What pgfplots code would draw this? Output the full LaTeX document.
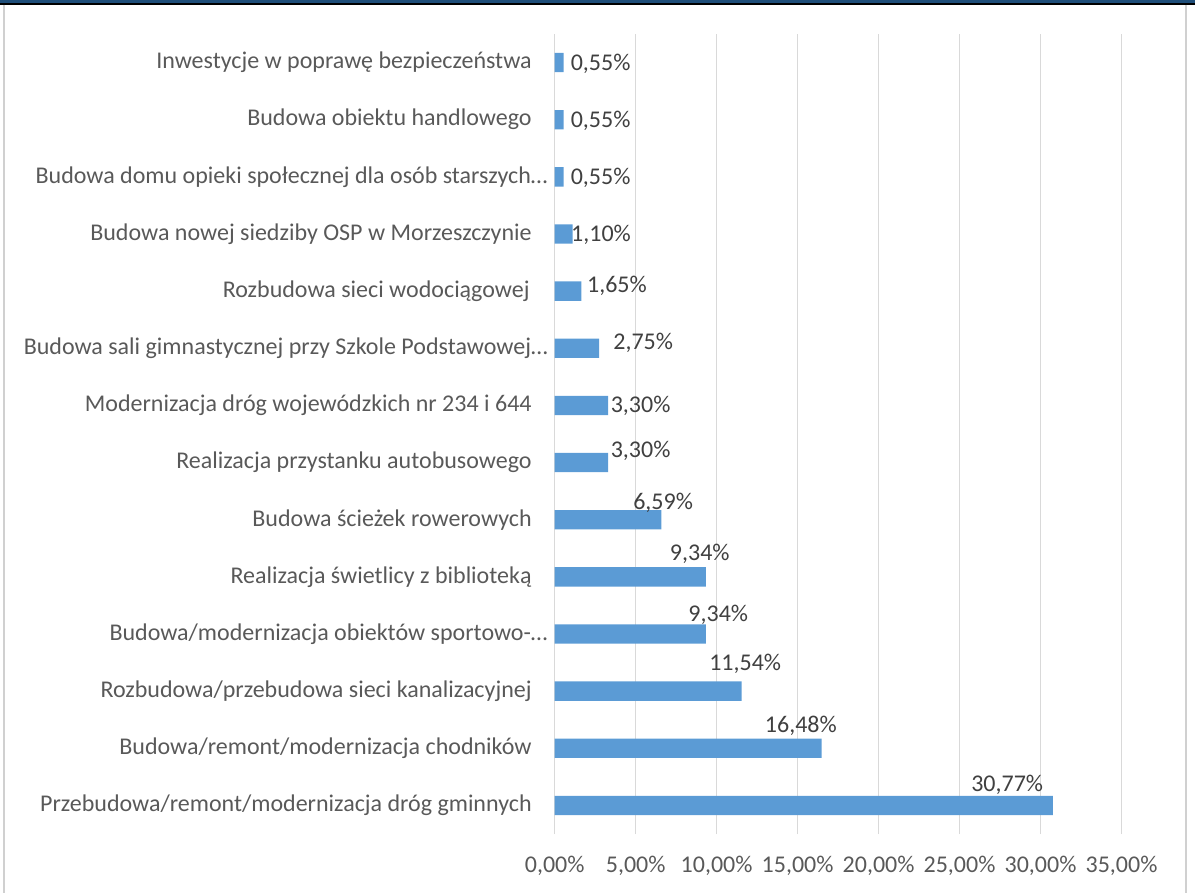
\documentclass[border=0pt]{standalone}
\usepackage{pgfplots}
\pgfplotsset{compat=1.18}
\usepackage{pgfplotstable}
\usepackage{fontspec}
\setmainfont{Carlito}

\definecolor{barblue}{HTML}{5B9BD5}
\definecolor{gridgray}{HTML}{D9D9D9}
\definecolor{labelgray}{HTML}{595959}
\definecolor{valuegray}{HTML}{404040}
\definecolor{framenavy}{HTML}{1F4E79}
\definecolor{framegray}{HTML}{D0D0D0}

% share of answers per investment (in %), bottom row first;
% dx/dy: hand-placed offsets of each value label (pt)
\pgfplotstableread{
idx value dx dy
0  30.77 -22.9 11
1  16.48 -10.35 11.5
2  11.54 1.8  14
3  9.34  6.15 10
4  9.34  -3.1 11.85
5  6.59  0.85 8.85
6  3.30  16.25 6.15
7  3.30  16.25 0.25
8  2.75  22   3
9  1.65  17.75 3
10 1.10  14.25 0
11 0.55  18.5 0
12 0.55  18.5 0
13 0.55  18.5 0
}\investdata

\newcommand{\chartfont}{\fontsize{12pt}{14.4pt}\selectfont}

\begin{document}
\begin{tikzpicture}
\path[use as bounding box] (0,0) rectangle (597.5pt,-446.5pt);
\begin{axis}[
  at={(277.35pt,-417pt)}, anchor=south west,
  scale only axis, width=283.4pt, height=400pt,
  xmin=0, xmax=35, ymin=-0.5, ymax=13.5,
  axis line style={draw=none},
  major tick length=0pt, tick style={draw=none},
  xmajorgrids, grid style={gridgray, line width=0.65pt},
  /pgf/number format/assume math mode=true,
  xtick={0,5,...,35},
  xticklabel={\pgfmathprintnumber[fixed,fixed zerofill,precision=2,use comma]{\tick}\%},
  xticklabel style={anchor=base, yshift=-19.3pt, font=\chartfont, text=labelgray},
  ytick={0,...,13},
  yticklabels={
    Przebudowa/remont/modernizacja dróg gminnych\hspace*{8pt},
    Budowa/remont/modernizacja chodników\hspace*{8pt},
    Rozbudowa/przebudowa sieci kanalizacyjnej\hspace*{8pt},
    Budowa/modernizacja obiektów sportowo-…,
    Realizacja świetlicy z biblioteką\hspace*{8pt},
    Budowa ścieżek rowerowych\hspace*{8pt},
    Realizacja przystanku autobusowego\hspace*{8pt},
    Modernizacja dróg wojewódzkich nr 234 i 644\hspace*{8pt},
    Budowa sali gimnastycznej przy Szkole Podstawowej…,
    Rozbudowa sieci wodociągowej\hspace*{9pt},
    Budowa nowej siedziby OSP w Morzeszczynie\hspace*{8pt},
    Budowa domu opieki społecznej dla osób starszych…,
    Budowa obiektu handlowego\hspace*{8pt},
    Inwestycje w poprawę bezpieczeństwa\hspace*{8pt}
  },
  yticklabel style={font=\chartfont, text=labelgray},
]
\addplot[xbar, bar width=9.65pt, fill=barblue, draw=none]
  table[x=value, y=idx] {\investdata};
\addplot[draw=none, mark=none, point meta=x,
  nodes near coords={\pgfmathprintnumber[fixed,fixed zerofill,precision=2,use comma]{\pgfplotspointmeta}\%},
  visualization depends on={\thisrow{dx} \as \labdx},
  visualization depends on={\thisrow{dy} \as \labdy},
  every node near coord/.append style={anchor=base, inner sep=0pt,
    xshift=\labdx pt, yshift=\labdy pt-3.8pt, font=\chartfont, text=valuegray}]
  table[x=value, y=idx] {\investdata};
\end{axis}
% chart frame
\fill[framenavy] (0,0) rectangle (597.5pt,-1.4pt);
\fill[black] (0,-1.4pt) rectangle (597.5pt,-2.4pt);
\draw[framegray, line width=0.65pt] (2pt,-2.4pt) -- (2pt,-446.5pt);
\draw[framegray, line width=0.65pt] (593pt,-2.4pt) -- (593pt,-446.5pt);
\end{tikzpicture}
\end{document}
